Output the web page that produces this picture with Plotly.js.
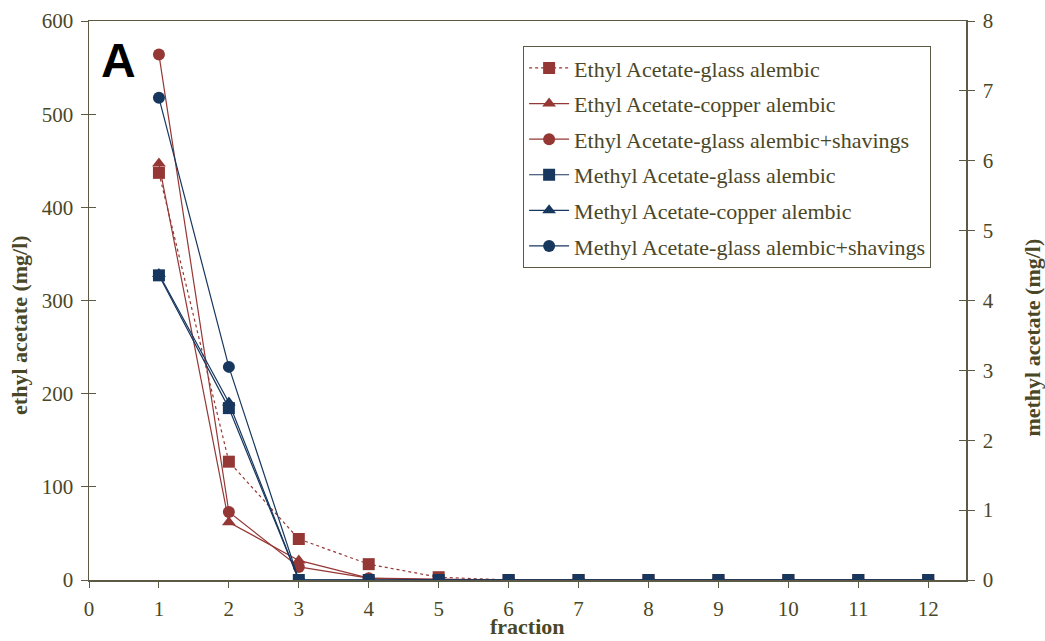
<!DOCTYPE html>
<html>
<head>
<meta charset="utf-8">
<script src="https://cdn.plot.ly/plotly-3.0.1.min.js"></script>
<style>
  html, body { margin: 0; padding: 0; background: #fff; }
  #chart { width: 1045px; height: 641px; }
</style>
</head>
<body>
<div id="chart"></div>
<script>
// Fractions collected from the distillation
const fractions = [1, 2, 3, 4, 5, 6, 7, 8, 9, 10, 11, 12];

// Ethyl acetate (mg/l), left axis
const ethylGlass    = [437, 127, 44, 17, 3, 0, 0, 0, 0, 0, 0, 0];
const ethylCopper   = [447, 62, 21, 2, 1, 0, 0, 0, 0, 0, 0, 0];
const ethylShavings = [564, 73, 14, 2, 0, 0, 0, 0, 0, 0, 0, 0];

// Methyl acetate (mg/l), right axis
const methylGlass    = [4.36, 2.46, 0, 0, 0, 0, 0, 0, 0, 0, 0, 0];
const methylCopper   = [4.38, 2.54, 0, 0, 0, 0, 0, 0, 0, 0, 0, 0];
const methylShavings = [6.90, 3.05, 0, 0, 0, 0, 0, 0, 0, 0, 0, 0];

const seriesNames = [
  'Ethyl Acetate-glass alembic',
  'Ethyl Acetate-copper alembic',
  'Ethyl Acetate-glass alembic+shavings',
  'Methyl Acetate-glass alembic',
  'Methyl Acetate-copper alembic',
  'Methyl Acetate-glass alembic+shavings'
];

const xTitle = 'fraction';
const yLeftTitle = 'ethyl acetate (mg/l)';
const yRightTitle = 'methyl acetate (mg/l)';
const panelLabel = 'A';

const red = '#953735';
const blue = '#17375E';
const axisCol = '#5c5a44';
const textCol = '#4a4727';
const serif = 'Liberation Serif, Times New Roman, serif';

function trace(name, y, color, symbol, dash, axis, idx) {
  return {
    x: fractions, y: y, name: name, type: 'scatter', mode: 'lines+markers',
    yaxis: axis, legendgroup: 'g' + idx,
    line: { color: color, width: 1.2, dash: dash },
    marker: { color: color, symbol: symbol, size: 12, line: { width: 0 } }
  };
}

const data = [
  trace(seriesNames[0], ethylGlass, red, 'square', 'dot', 'y', 0),
  trace(seriesNames[1], ethylCopper, red, 'triangle-up', 'solid', 'y', 1),
  trace(seriesNames[2], ethylShavings, red, 'circle', 'solid', 'y', 2),
  trace(seriesNames[3], methylGlass, blue, 'square', 'solid', 'y2', 3),
  trace(seriesNames[4], methylCopper, blue, 'triangle-up', 'solid', 'y2', 4),
  trace(seriesNames[5], methylShavings, blue, 'circle', 'solid', 'y2', 5)
];

// dummy traces so the inner tick axes are drawn
data.push({ x: [null], y: [null], yaxis: 'y3', showlegend: false, hoverinfo: 'skip', type: 'scatter' });
data.push({ x: [null], y: [null], yaxis: 'y4', showlegend: false, hoverinfo: 'skip', type: 'scatter' });

const tickFont = { family: serif, size: 21, color: textCol };
const titleFont = { family: serif, size: 22, color: textCol, weight: 'bold' };

const layout = {
  width: 1045, height: 641,
  margin: { l: 89, r: 79, t: 21, b: 61 },
  paper_bgcolor: '#ffffff', plot_bgcolor: '#ffffff',
  showlegend: true,
  xaxis: {
    range: [0, 12.54], tickmode: 'array',
    tickvals: [0, 1, 2, 3, 4, 5, 6, 7, 8, 9, 10, 11, 12],
    ticks: 'outside', ticklen: 6, tickcolor: axisCol, tickwidth: 1,
    showline: true, linecolor: axisCol, linewidth: 1.5, mirror: true,
    showgrid: false, zeroline: false,
    tickfont: tickFont, ticklabelstandoff: 3
  },
  yaxis: {
    range: [0, 600], dtick: 100,
    ticks: 'outside', ticklen: 7, tickcolor: axisCol, tickwidth: 1,
    showline: true, linecolor: axisCol, linewidth: 1.5,
    showgrid: false, zeroline: false,
    tickfont: tickFont, ticklabelstandoff: 3
  },
  yaxis2: {
    range: [0, 8], dtick: 1, overlaying: 'y', side: 'right',
    ticks: 'outside', ticklen: 7, tickcolor: axisCol, tickwidth: 1,
    showline: true, linecolor: axisCol, linewidth: 1.5,
    showgrid: false, zeroline: false,
    tickfont: tickFont, ticklabelstandoff: 4
  },
  // inner halves of the crossing tick marks
  yaxis3: {
    range: [0, 600], dtick: 100, overlaying: 'y', side: 'left',
    ticks: 'inside', ticklen: 7, tickcolor: axisCol, tickwidth: 1,
    showticklabels: false, showline: false, showgrid: false, zeroline: false
  },
  yaxis4: {
    range: [0, 8], dtick: 1, overlaying: 'y', side: 'right',
    ticks: 'inside', ticklen: 7, tickcolor: axisCol, tickwidth: 1,
    showticklabels: false, showline: false, showgrid: false, zeroline: false
  },
  legend: {
    x: 0.495, y: 0.955, xanchor: 'left', yanchor: 'top',
    bgcolor: '#ffffff', bordercolor: axisCol, borderwidth: 1,
    font: { family: serif, size: 22, color: textCol },
    traceorder: 'grouped', tracegroupgap: 4, itemwidth: 40
  },
  annotations: [
    {
      xref: 'paper', yref: 'paper', x: 0.034, y: 0.930,
      xanchor: 'center', yanchor: 'middle', showarrow: false,
      text: '<b>' + panelLabel + '</b>',
      font: { family: 'Liberation Sans, Arial, sans-serif', size: 48, color: '#000000' }
    },
    {
      xref: 'paper', yref: 'paper', x: 0.5, y: -0.108,
      xanchor: 'center', yanchor: 'bottom', showarrow: false, borderpad: 0,
      text: '<b>' + xTitle + '</b>', font: titleFont
    },
    {
      xref: 'paper', yref: 'paper', x: -0.080, y: 0.456,
      xanchor: 'center', yanchor: 'middle', showarrow: false, textangle: -90,
      text: '<b>' + yLeftTitle + '</b>', font: titleFont
    },
    {
      xref: 'paper', yref: 'paper', x: 1.076, y: 0.433,
      xanchor: 'center', yanchor: 'middle', showarrow: false, textangle: -90,
      text: '<b>' + yRightTitle + '</b>', font: titleFont
    }
  ]
};

Plotly.newPlot('chart', data, layout, { displayModeBar: false, staticPlot: true });
</script>
</body>
</html>
